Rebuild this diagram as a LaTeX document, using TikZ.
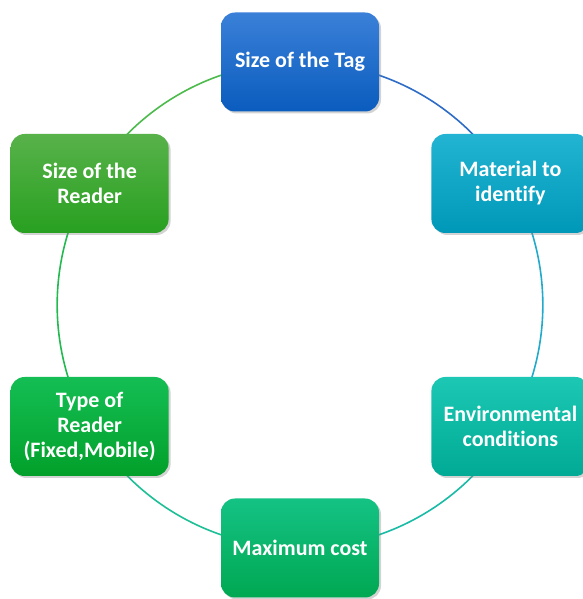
\documentclass[tikz,border=0pt]{standalone}
\usepackage{fontspec}
\setmainfont{Carlito}[Ligatures=NoCommon]
\usetikzlibrary{shadows,backgrounds}
\definecolor{tagT}{HTML}{3A80D8}\definecolor{tagB}{HTML}{0A5CBE}
\definecolor{matT}{HTML}{22B4D2}\definecolor{matB}{HTML}{0098B8}
\definecolor{envT}{HTML}{1CC8B4}\definecolor{envB}{HTML}{00AA94}
\definecolor{costT}{HTML}{14C284}\definecolor{costB}{HTML}{00A852}
\definecolor{typeT}{HTML}{14BE54}\definecolor{typeB}{HTML}{02A02A}
\definecolor{readT}{HTML}{58B24A}\definecolor{readB}{HTML}{28A020}
\definecolor{arcA}{HTML}{2E6CC6}
\definecolor{arcB}{HTML}{22AACB}
\definecolor{arcC}{HTML}{1ABBA6}
\definecolor{arcD}{HTML}{1CBF96}
\definecolor{arcE}{HTML}{22BA50}
\definecolor{arcF}{HTML}{4CBB4C}
\tikzset{
  box/.style={rounded corners=14pt, minimum width=158pt, minimum height=99pt,
    align=center, text=white, font=\bfseries\fontsize{22}{25}\selectfont,
    drop shadow={opacity=0.35, shadow xshift=2pt, shadow yshift=-2pt}},
  ring/.style={line width=1.6pt, bend left=30, looseness=0.9126}
}
\begin{document}
\begin{tikzpicture}[x=1pt,y=1pt]
\useasboundingbox (0,0) rectangle (582,599);
\node[box, top color=tagT, bottom color=tagB] (tag) at (300,537) {Size of the Tag};
\node[box, top color=matT, bottom color=matB] (mat) at (510.4,415.5) {Material to\\identify};
\node[box, top color=envT, bottom color=envB] (env) at (510.4,172.5) {Environmental\\conditions};
\node[box, top color=costT, bottom color=costB] (cost) at (300,51) {Maximum cost};
\node[box, top color=typeT, bottom color=typeB] (type) at (89.6,172.5) {Type of\\Reader\\(Fixed,Mobile)};
\node[box, top color=readT, bottom color=readB] (read) at (89.6,415.5) {Size of the\\Reader};
\begin{pgfonlayer}{background}
\draw[ring, arcA] (tag.center) to (mat.center);
\draw[ring, arcB] (mat.center) to (env.center);
\draw[ring, arcC] (env.center) to (cost.center);
\draw[ring, arcD] (cost.center) to (type.center);
\draw[ring, arcE] (type.center) to (read.center);
\draw[ring, arcF] (read.center) to (tag.center);
\end{pgfonlayer}
\end{tikzpicture}
\end{document}
